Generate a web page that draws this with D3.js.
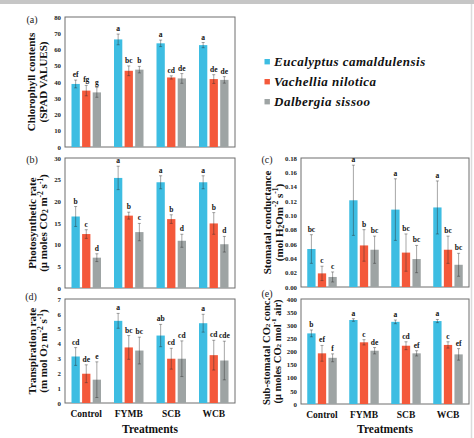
<!DOCTYPE html>
<html><head><meta charset="utf-8">
<script src="https://cdn.jsdelivr.net/npm/d3@7"></script>
<style>body{margin:0;background:#fff}svg{display:block}</style>
</head><body>
<script>
const categories = ["Control","FYMB","SCB","WCB"];
const species = ["Eucalyptus camaldulensis","Vachellia nilotica","Dalbergia sissoo"];
const speciesColors = ["#3dbde2","#f4593b","#9ea4a4"];

// each row: one treatment, values for [Eucalyptus, Vachellia, Dalbergia]
const chlorophyllValues  = [[38.8,34.7,33.6],[66.2,46.9,47.6],[63.8,42.8,42.2],[62.7,41.8,41.3]];
const chlorophyllErrors  = [[2.4,3.2,3.0],[3.3,3.0,2.0],[2.0,1.0,3.0],[1.6,2.7,2.0]];
const chlorophyllLetters = [["ef","fg","g"],["a","bc","b"],["a","cd","de"],["a","de","de"]];
const chlorophyllTicks   = [0,10,20,30,40,50,60,70,80];

const photoValues  = [[16.5,12.45,7.0],[25.4,16.7,12.9],[24.4,15.9,10.9],[24.4,14.9,10.1]];
const photoErrors  = [[2.3,1.0,0.9],[2.7,0.8,2.0],[1.5,1.0,1.5],[1.5,2.5,1.8]];
const photoLetters = [["b","c","d"],["a","b","c"],["a","b","d"],["a","b","d"]];
const photoTicks   = [0,5,10,15,20,25,30];

const stomatalValues  = [[0.053,0.019,0.014],[0.121,0.058,0.052],[0.108,0.048,0.039],[0.111,0.052,0.031]];
const stomatalErrors  = [[0.020,0.010,0.007],[0.049,0.022,0.019],[0.043,0.026,0.019],[0.037,0.019,0.016]];
const stomatalLetters = [["bc","c","c"],["a","b","bc"],["a","bc","bc"],["a","bc","bc"]];
const stomatalTicks   = [0,0.02,0.04,0.06,0.08,0.10,0.12,0.14,0.16,0.18];
const stomatalTickLabels = ["0.00","0.02","0.04","0.06","0.08","0.10","0.12","0.14","0.16","0.18"];

const transpValues  = [[3.13,1.97,1.57],[5.53,3.74,3.53],[4.54,2.98,2.98],[5.37,3.22,2.86]];
const transpErrors  = [[0.6,0.6,1.2],[0.5,0.8,0.9],[0.75,0.7,1.2],[0.6,1.0,1.3]];
const transpLetters = [["cd","de","e"],["a","bc","bc"],["ab","cd","cd"],["a","cd","cde"]];
const transpTicks   = [0,1,2,3,4,5,6,7];

const subValues  = [[269,193,176],[320,235,203],[313,222,193],[316,225,189]];
const subErrors  = [[13,30,15],[5,10,12],[7,15,10],[6,12,22]];
const subLetters = [["b","ef","f"],["a","c","de"],["a","cd","ef"],["a","c","ef"]];
const subTicks   = [0,50,100,150,200,250,300,350,400];

const W = 474, H = 438;
const svg = d3.select("body").append("svg").attr("width", W).attr("height", H);
const SERIF = "Liberation Serif, Times New Roman, serif";

// decorations of the scanned figure
svg.append("rect").attr("x",0).attr("y",0).attr("width",W).attr("height",4).attr("fill","#c6c6c6");
svg.append("line").attr("x1",471.5).attr("x2",471.5).attr("y1",4).attr("y2",H).attr("stroke","#dcdcdc").attr("stroke-width",1.5);

function addTitleLine(g, parts, x, y, size) {
  const t = g.append("text").attr("transform", `translate(${x},${y}) rotate(-90)`)
    .attr("text-anchor","middle").attr("dominant-baseline","central")
    .attr("font-family", SERIF).attr("font-weight","bold").attr("font-size", size).attr("fill","#111");
  parts.forEach(p => {
    const s = t.append("tspan").text(p.t);
    if (p.sub) s.attr("font-size", size*0.68).attr("dy", 2.2);
    if (p.sup) s.attr("font-size", size*0.68).attr("dy", -3.5);
    if (p.back) s.attr("dy", p.back);
  });
}

function panel(cfg) {
  const {x0,x1,y0,y1} = cfg;
  const g = svg.append("g");
  const x = d3.scaleBand().domain(categories).range([x0,x1]).padding(0);
  const y = d3.scaleLinear().domain([0, d3.max(cfg.ticks)]).range([y1,y0]);
  const barW = 8.3, barStep = 10.6;

  // frame
  g.append("rect").attr("x",x0).attr("y",y0).attr("width",x1-x0).attr("height",y1-y0)
    .attr("fill","none").attr("stroke","#6e6e6e").attr("stroke-width",1);

  // y axis labels
  const ya = d3.axisLeft(y).tickValues(cfg.ticks).tickSize(0).tickPadding(4)
    .tickFormat((d,i) => cfg.tickLabels ? cfg.tickLabels[i] : d3.format("d")(d));
  const yg = g.append("g").attr("transform",`translate(${x0},0)`).call(ya);
  yg.select(".domain").remove();
  yg.selectAll("text").attr("font-family",SERIF).attr("font-weight","bold").attr("font-size",6.8).attr("fill","#222");

  // bars
  const flat = [];
  categories.forEach((c,ci) => species.forEach((s,si) => {
    flat.push({c, si, v: cfg.values[ci][si], e: cfg.errors[ci][si], l: cfg.letters[ci][si]});
  }));
  const cx = d => x(d.c) + x.bandwidth()/2 + (d.si-1)*barStep;
  g.selectAll("rect.bar").data(flat).enter().append("rect").attr("class","bar")
    .attr("x", d => cx(d) - barW/2).attr("width", barW)
    .attr("y", d => y(d.v)).attr("height", d => y(0) - y(d.v))
    .attr("fill", d => speciesColors[d.si]);
  // error bars
  const eg = g.selectAll("g.err").data(flat).enter().append("g").attr("class","err")
    .attr("stroke","#2b2b2b").attr("stroke-opacity",0.42).attr("stroke-width",1);
  eg.append("line").attr("x1",cx).attr("x2",cx).attr("y1",d=>y(d.v+d.e)).attr("y2",d=>y(d.v-d.e));
  eg.append("line").attr("x1",d=>cx(d)-1.5).attr("x2",d=>cx(d)+1.5).attr("y1",d=>y(d.v+d.e)).attr("y2",d=>y(d.v+d.e));
  eg.append("line").attr("x1",d=>cx(d)-1.5).attr("x2",d=>cx(d)+1.5).attr("y1",d=>y(d.v-d.e)).attr("y2",d=>y(d.v-d.e));
  // letters
  g.selectAll("text.let").data(flat).enter().append("text").attr("class","let")
    .attr("x", cx).attr("y", d => y(d.v+d.e) - 3)
    .attr("text-anchor","middle").attr("font-family",SERIF).attr("font-weight","bold")
    .attr("font-size",7.5).attr("fill","#111").text(d => d.l);

  // x axis
  if (cfg.xAxis) {
    const xa = d3.axisBottom(x).tickSize(0).tickPadding(7);
    const xg = g.append("g").attr("transform",`translate(0,${y1})`).call(xa);
    xg.select(".domain").remove();
    xg.selectAll("text").attr("font-family",SERIF).attr("font-weight","bold").attr("font-size",9.5).attr("fill","#111");
    g.append("text").attr("x",(x0+x1)/2).attr("y",433).attr("text-anchor","middle")
      .attr("font-family",SERIF).attr("font-weight","bold").attr("font-size",11.5).attr("fill","#111").text("Treatments");
  }
  // panel letter
  g.append("text").attr("x",cfg.lx).attr("y",cfg.ly).attr("text-anchor","middle")
    .attr("font-family",SERIF).attr("font-size",10).attr("fill","#222").text(cfg.label);
  // titles
  const cy = (y0+y1)/2;
  addTitleLine(g, cfg.title1, cfg.tx1, cy, cfg.tsize || 11);
  addTitleLine(g, cfg.title2, cfg.tx2, cy, cfg.tsize || 11);
}

panel({x0:65,x1:235,y0:17,y1:147, ticks:chlorophyllTicks, values:chlorophyllValues, errors:chlorophyllErrors, letters:chlorophyllLetters,
  label:"(a)", lx:32, ly:23, tx1:31, tx2:42.5,
  title1:[{t:"Chlorophyll contents"}], title2:[{t:"(SPAD VALUES)"}]});
panel({x0:65,x1:235,y0:158,y1:288, ticks:photoTicks, values:photoValues, errors:photoErrors, letters:photoLetters,
  label:"(b)", lx:32, ly:163, tx1:31.5, tx2:43,
  title1:[{t:"Photosynthetic rate"}],
  title2:[{t:"(μ moles CO"},{t:"2",sub:true},{t:" m",back:-2.2},{t:"-2",sup:true},{t:" s",back:3.5},{t:"-1",sup:true},{t:")",back:3.5}]});
panel({x0:301,x1:469,y0:158,y1:287, ticks:stomatalTicks, tickLabels:stomatalTickLabels, values:stomatalValues, errors:stomatalErrors, letters:stomatalLetters,
  label:"(c)", lx:267, ly:163, tx1:267, tx2:278.5,
  title1:[{t:"Stomatal conductance"}],
  title2:[{t:"(mol H"},{t:"2",sub:true},{t:"Om",back:-2.2},{t:"-2",sup:true},{t:" s",back:3.5},{t:"-1",sup:true},{t:")",back:3.5}]});
panel({x0:65,x1:235,y0:299,y1:403, ticks:transpTicks, values:transpValues, errors:transpErrors, letters:transpLetters, xAxis:true,
  label:"(d)", lx:31, ly:300, tx1:31.5, tx2:43,
  title1:[{t:"Transpiration rate"}],
  title2:[{t:"(m mol O"},{t:"2",sub:true},{t:" m",back:-2.2},{t:"-2",sup:true},{t:" s",back:3.5},{t:"-1",sup:true},{t:")",back:3.5}]});
panel({x0:301,x1:469,y0:299,y1:404, ticks:subTicks, values:subValues, errors:subErrors, letters:subLetters, xAxis:true,
  label:"(e)", lx:267, ly:297, tx1:265.5, tx2:277, tsize:10.5,
  title1:[{t:"Sub-stomatal CO"},{t:"2",sub:true},{t:" conc.",back:-2.2}],
  title2:[{t:"(μ moles CO"},{t:"2",sub:true},{t:" mol",back:-2.2},{t:"-1",sup:true},{t:" air)",back:3.5}]});

// legend
const lg = svg.append("g");
species.forEach((s,i) => {
  const cy = 61.7 + i*20;
  lg.append("rect").attr("x",264.5).attr("y",cy-2.7).attr("width",5.4).attr("height",5.4).attr("fill",speciesColors[i]);
  lg.append("text").attr("x",274).attr("y",cy+4.3).attr("font-family",SERIF).attr("font-weight","bold")
    .attr("font-style","italic").attr("font-size",13).attr("letter-spacing",0.5).attr("fill","#111").text(s);
});
</script>
</body></html>
